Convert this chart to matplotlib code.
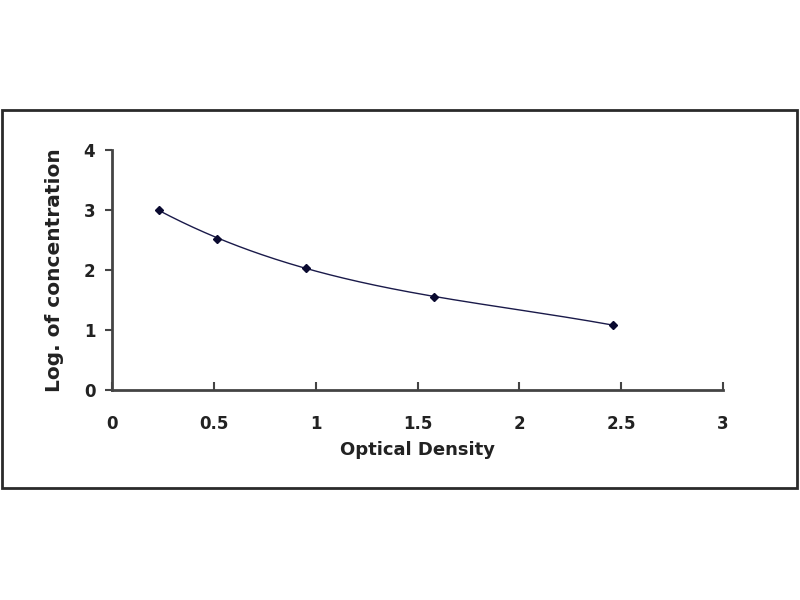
import matplotlib
matplotlib.use('Agg')
import matplotlib.pyplot as plt
from matplotlib.patches import Rectangle
import numpy as np

# Standard curve points
optical_density = [0.23, 0.516, 0.954, 1.58, 2.458]
log_conc = [3.0, 2.52, 2.04, 1.555, 1.083]
x_ticks = [0, 0.5, 1, 1.5, 2, 2.5, 3]
y_ticks = [0, 1, 2, 3, 4]

plt.rcParams['font.family'] = ['DejaVu Sans']
plt.rcParams['font.weight'] = 'bold'

fig = plt.figure(figsize=(8, 6), dpi=100)
fig.patch.set_facecolor('white')

# outer frame of the chart area
fig.patches.append(Rectangle((2 / 800, 1 - 488 / 600), 795 / 800, 378 / 600,
                             transform=fig.transFigure, fill=False,
                             edgecolor='#2a2a2a', lw=2))

ax = fig.add_axes([0.14, 0.35, 0.76375, 0.4])

# trend line: cubic fit through the standards
coef = np.polyfit(optical_density, log_conc, 3)
xs = np.linspace(min(optical_density), max(optical_density), 200)
ax.plot(xs, np.polyval(coef, xs), color='#1a1a4a', lw=1)
ax.plot(optical_density, log_conc, linestyle='none', marker='D', ms=4,
        color='#0a0a30')

ax.set_xlim(0, 3)
ax.set_ylim(0, 4)
ax.set_xticks(x_ticks)
ax.set_xticklabels(['0', '0.5', '1', '1.5', '2', '2.5', '3'])
ax.set_yticks(y_ticks)

for side in ['top', 'right']:
    ax.spines[side].set_visible(False)
for side in ['left', 'bottom']:
    ax.spines[side].set_color('#444444')
    ax.spines[side].set_linewidth(2)

ax.tick_params(axis='x', direction='in', length=6, width=1.5, color='#444444',
               pad=18, labelsize=12, labelcolor='#222222')
ax.tick_params(axis='y', direction='out', length=5, width=1.5, color='#444444',
               pad=7, labelsize=12, labelcolor='#222222')

ax.set_xlabel('Optical Density', fontsize=13, fontweight='bold',
              color='#222222', labelpad=6)
ax.set_ylabel('Log. of concentration', fontsize=14.5, fontweight='bold',
              color='#222222', labelpad=14)

fig.savefig('out.png', dpi=100)
